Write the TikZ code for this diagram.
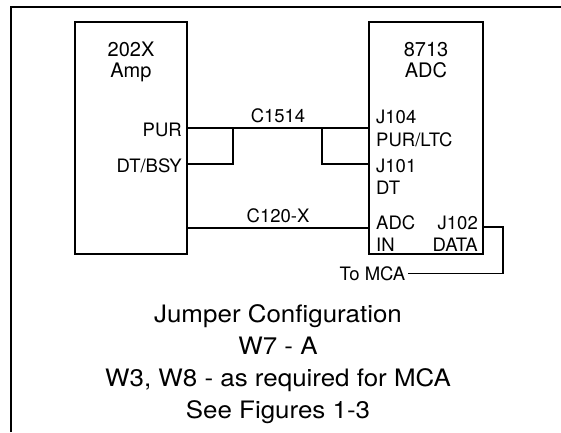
\documentclass[tikz,border=0pt]{standalone}
\usepackage{fontspec}
\setmainfont{TeX Gyre Heros}
\newfontfamily\capfont{TeX Gyre Heros}[FakeStretch=1.08]
\usetikzlibrary{positioning}

\begin{document}
\begin{tikzpicture}[x=1pt,y=-1pt,
  unit/.style={draw,line width=1.8pt,minimum height=232pt,inner sep=0pt},
  wire/.style={line width=1.5pt},
  pin/.style={font=\fontsize{18.5}{20}\selectfont,inner sep=0pt},
  title/.style={font=\fontsize{20}{24}\selectfont,inner sep=0pt,anchor=base},
  caption/.style={font=\capfont\fontsize{24}{32}\selectfont,align=center,inner sep=0pt}]
  \useasboundingbox (0,0) rectangle (561,432);
  \draw[line width=1.3pt] (11,432) -- (11,7) -- (561,7);
  % the two units
  \node[unit,minimum width=112pt] (amp) at (131,138) {};
  \node[unit,minimum width=114pt] (adc) at (426,138) {};
  \node[title] (ampno) at (131,56) {202X};
  \node[title] (ampname) at (131,77) {Amp};
  \node[title] (adcno) at (426,56) {8713};
  \node[title] (adcname) at (426,77) {ADC};
  % pins
  \node[pin,anchor=base east] (pur) at (182,136) {PUR};
  \node[pin,anchor=base east] (dtbsy) at (182,172) {DT/BSY};
  \node[pin,anchor=base west] (jfour) at (376,123) {J104};
  \node[pin,anchor=base west] (purltc) at (376,146) {PUR/LTC};
  \node[pin,anchor=base west] (jone) at (376,172) {J101};
  \node[pin,anchor=base west] (dt) at (376,194) {DT};
  \node[pin,anchor=base west] (adcin) at (376,229) {ADC};
  \node[pin,anchor=base west] (in) at (376,251) {IN};
  \node[pin,anchor=base east] (jtwo) at (478,229) {J102};
  \node[pin,anchor=base east] (data) at (478,251) {DATA};
  \node[pin,anchor=base] (cpur) at (278,122) {C1514};
  \node[pin,anchor=base] (csig) at (278,222) {C120-X};
  \node[pin,anchor=base east,inner xsep=2.5pt] (tomca) at (408,280) {To MCA};
  % cabling
  \coordinate (tapl) at (233,128);
  \coordinate (tapld) at (233,164);
  \coordinate (tapr) at (322,128);
  \coordinate (taprd) at (322,164);
  \coordinate (sig) at (278,228);
  \coordinate (dturn) at (503,227);
  \draw[wire] (amp.east |- tapl) -- (adc.west |- tapr);
  \draw[wire] (amp.east |- tapld) -- (tapld) -- (tapl);
  \draw[wire] (adc.west |- taprd) -- (taprd) -- (tapr);
  \draw[wire] (amp.east |- sig) -- (adc.west |- sig);
  \draw[wire] (adc.east |- dturn) -- (dturn) |- (tomca.east);
  \node[caption,anchor=north] (jumpers) at (278,304)
    {Jumper Configuration\\W7 - A\\W3, W8 - as required for MCA\\See Figures 1-3};
\end{tikzpicture}
\end{document}
